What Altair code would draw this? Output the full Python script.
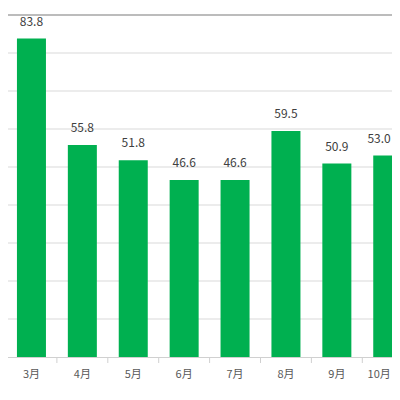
import altair as alt
import pandas as pd

months = ["3月", "4月", "5月", "6月", "7月", "8月", "9月", "10月"]
values = [83.8, 55.8, 51.8, 46.6, 46.6, 59.5, 50.9, 53.0]
y_ticks = [10, 20, 30, 40, 50, 60, 70, 80]
y_top = [90]

df = pd.DataFrame({"month": months, "value": values})
grid_df = pd.DataFrame({"y": y_ticks})
top_df = pd.DataFrame({"y": y_top})

W = 384
H = 342
step = 50.9
start = -2

x_scale = alt.Scale(domain=months, range=[start, start + step * len(months)],
                    paddingInner=0, paddingOuter=0)
y_scale = alt.Scale(domain=[0, 90], nice=False)

FONT = "Noto Sans CJK JP"
last_test = f"datum.value == '{months[-1]}'"
last_filter = f"datum.month == '{months[-1]}'"

base = alt.Chart(df)

grid = alt.Chart(grid_df).mark_rule(color="#d9d9d9", strokeWidth=1).encode(
    y=alt.Y("y:Q", scale=y_scale, axis=None)
)

bars = base.mark_bar(color="#00b050", width=alt.RelativeBandSize(0.57), clip=True).encode(
    x=alt.X("month:N", scale=x_scale, sort=months,
            axis=alt.Axis(title=None, labelAngle=0, ticks=False, tickSize=0,
                          domain=True, domainColor="#d0d0d0", labelColor="#595959",
                          labelFontSize=11, labelFont=FONT, labelPadding=11,
                          labelAlign={"condition": {"test": last_test, "value": "right"},
                                      "value": "center"},
                          labelOffset={"condition": {"test": last_test, "value": 3},
                                       "value": 0})),
    y=alt.Y("value:Q", scale=y_scale, axis=None)
)

labels = base.transform_filter(f"!({last_filter})").mark_text(
    dy=-13, baseline="alphabetic", fontSize=12, color="#404040", font=FONT).encode(
    x=alt.X("month:N", scale=x_scale, sort=months),
    y=alt.Y("value:Q", scale=y_scale),
    text=alt.Text("value:Q", format=".1f")
)

last_label = base.transform_filter(last_filter).mark_text(
    dy=-13, dx=3, align="right", baseline="alphabetic", fontSize=12, color="#404040",
    font=FONT).encode(
    x=alt.X("month:N", scale=x_scale, sort=months),
    y=alt.Y("value:Q", scale=y_scale),
    text=alt.Text("value:Q", format=".1f")
)

ticks = base.mark_rule(color="#d0d0d0").encode(
    x=alt.X("month:N", scale=x_scale, sort=months, bandPosition=0),
    y=alt.value(H),
    y2=alt.value(H + 6)
)

top_rule = alt.Chart(top_df).mark_rule(color="#a6a6a6", strokeWidth=1.5).encode(
    y=alt.Y("y:Q", scale=y_scale)
)

chart = alt.layer(grid, bars, labels, last_label, ticks, top_rule).properties(
    width=W, height=H,
    padding={"top": 7, "bottom": 35, "left": 0, "right": 0},
    autosize=alt.AutoSizeParams(type="none"),
    background="white"
).configure_view(stroke=None)

chart.save("out.html", embed_options={"renderer": "svg", "actions": False})
